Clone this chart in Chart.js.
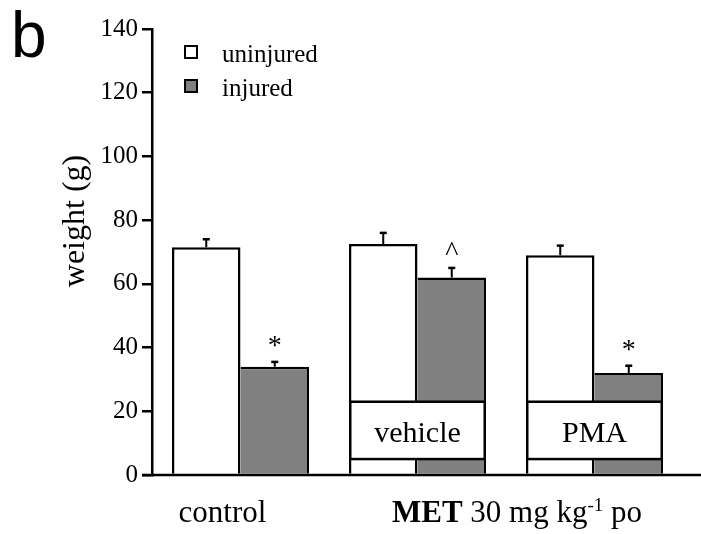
<!DOCTYPE html>
<html>
<head>
<meta charset="utf-8">
<script src="https://cdn.jsdelivr.net/npm/chart.js@4.4.1/dist/chart.umd.min.js"></script>
<style>
    html, body { margin: 0; padding: 0; background: #fff; }
    #weightChart { display: block; }
</style>
</head>
<body>
<canvas id="weightChart" width="701" height="534"></canvas>
<script>
const groups = ['control', 'vehicle', 'PMA'];
const seriesNames = ['uninjured', 'injured'];
const uninjured = [71.5, 72.5, 69];
const uninjuredErr = [2.5, 3.5, 3];
const injured = [34, 62, 32];
const injuredErr = [1.5, 3, 2.3];
const injuredMarks = ['*', '^', '*'];
const yTicks = [0, 20, 40, 60, 80, 100, 120, 140];
const treatedGroups = ['vehicle', 'PMA'];
const boxRange = [5, 23]; // label boxes over the MET bars, in g

const serif = "'Liberation Serif', 'Times New Roman', serif";
const ink = '#000';

function serifFont(size, bold) {
    return (bold ? 'bold ' : '') + size + 'px ' + serif;
}

const figurePlugin = {
    id: 'figure',
    afterDatasetsDraw(chart) {
        const ctx = chart.ctx;
        const y = chart.scales.y;
        const area = chart.chartArea;
        const errs = [uninjuredErr, injuredErr];

        ctx.save();
        ctx.strokeStyle = ink;
        ctx.fillStyle = ink;

        // upward error bars + significance marks
        chart.data.datasets.forEach((ds, di) => {
            chart.getDatasetMeta(di).data.forEach((bar, i) => {
                const top = y.getPixelForValue(ds.data[i]);
                const cap = y.getPixelForValue(ds.data[i] + errs[di][i]);
                ctx.lineWidth = 2;
                ctx.beginPath();
                ctx.moveTo(bar.x, top);
                ctx.lineTo(bar.x, cap);
                ctx.stroke();
                ctx.lineWidth = 2.5;
                ctx.beginPath();
                ctx.moveTo(bar.x - 3.5, cap);
                ctx.lineTo(bar.x + 3.5, cap);
                ctx.stroke();
                if (di === 1 && injuredMarks[i]) {
                    ctx.font = serifFont(28);
                    ctx.textAlign = 'center';
                    ctx.textBaseline = 'alphabetic';
                    ctx.fillText(injuredMarks[i], bar.x, cap - 8);
                }
            });
        });

        // vehicle / PMA boxes
        const m0 = chart.getDatasetMeta(0);
        const m1 = chart.getDatasetMeta(1);
        groups.forEach((g, i) => {
            if (!treatedGroups.includes(g)) return;
            const left = m0.data[i].x - m0.data[i].width / 2;
            const right = m1.data[i].x + m1.data[i].width / 2;
            const top = y.getPixelForValue(boxRange[1]);
            const bot = y.getPixelForValue(boxRange[0]);
            ctx.fillStyle = '#fff';
            ctx.fillRect(left, top, right - left, bot - top);
            ctx.lineWidth = 2.5;
            ctx.strokeRect(left + 1.25, top, right - left - 2.5, bot - top);
            ctx.fillStyle = ink;
            ctx.font = serifFont(30);
            ctx.textAlign = 'center';
            ctx.textBaseline = 'alphabetic';
            ctx.fillText(g, (left + right) / 2, (top + bot) / 2 + 12);
        });

        // x axis line, runs past the y axis to the right edge
        ctx.lineWidth = 2.5;
        ctx.beginPath();
        ctx.moveTo(area.left - 10, area.bottom);
        ctx.lineTo(chart.width, area.bottom);
        ctx.stroke();
        ctx.restore();
    },
    afterDraw(chart) {
        const ctx = chart.ctx;
        const x = chart.scales.x;
        const area = chart.chartArea;
        ctx.save();
        ctx.fillStyle = ink;
        ctx.strokeStyle = ink;

        // panel letter
        ctx.font = "64px 'Liberation Sans', Arial, sans-serif";
        ctx.textAlign = 'left';
        ctx.textBaseline = 'alphabetic';
        ctx.fillText('b', 11, 57);

        // y title
        ctx.save();
        ctx.translate(84, 221);
        ctx.rotate(-Math.PI / 2);
        ctx.font = serifFont(32);
        ctx.textAlign = 'center';
        ctx.fillText('weight (g)', 0, 0);
        ctx.restore();

        // legend
        chart.data.datasets.forEach((ds, i) => {
            const sy = area.top + 17 + i * 34;
            ctx.fillStyle = ds.backgroundColor;
            ctx.fillRect(area.left + 33, sy, 12, 12);
            ctx.lineWidth = 2;
            ctx.strokeRect(area.left + 33, sy, 12, 12);
            ctx.fillStyle = ink;
            ctx.font = serifFont(25);
            ctx.textAlign = 'left';
            ctx.fillText(ds.label, area.left + 70, sy + 16);
        });

        // group labels under the axis
        const labelY = area.bottom + 47;
        ctx.font = serifFont(31);
        ctx.textAlign = 'center';
        ctx.fillText(groups[0], x.getPixelForValue(0) - 18, labelY);

        const parts = [
            { text: 'MET', font: serifFont(31, true), rise: 0 },
            { text: ' 30 mg kg', font: serifFont(31), rise: 0 },
            { text: '-1', font: serifFont(19), rise: 11 },
            { text: ' po', font: serifFont(31), rise: 0 }
        ];
        let total = 0;
        parts.forEach(p => { ctx.font = p.font; p.w = ctx.measureText(p.text).width; total += p.w; });
        let px = (x.getPixelForValue(1) + x.getPixelForValue(2)) / 2 + 11 - total / 2;
        ctx.textAlign = 'left';
        parts.forEach(p => {
            ctx.font = p.font;
            ctx.fillText(p.text, px, labelY - p.rise);
            px += p.w;
        });
        ctx.restore();
    }
};

const ctx = document.getElementById('weightChart').getContext('2d');

new Chart(ctx, {
    type: 'bar',
    data: {
        labels: groups,
        datasets: [{
            label: seriesNames[0],
            data: uninjured,
            backgroundColor: '#ffffff',
            borderColor: ink,
            borderWidth: { top: 2.5, left: 2.5, right: 2.5, bottom: 0 },
            borderSkipped: false
        }, {
            label: seriesNames[1],
            data: injured,
            backgroundColor: '#808080',
            borderColor: ink,
            borderWidth: { top: 2.5, left: 0, right: 2.5, bottom: 0 },
            borderSkipped: false
        }]
    },
    options: {
        responsive: false,
        animation: false,
        events: [],
        categoryPercentage: 0.774,
        barPercentage: 1.0,
        layout: {
            padding: { top: 29, right: 18, bottom: 59, left: 0 }
        },
        plugins: {
            legend: { display: false },
            tooltip: { enabled: false }
        },
        scales: {
            x: {
                display: false
            },
            y: {
                min: yTicks[0],
                max: yTicks[yTicks.length - 1],
                afterBuildTicks: s => { s.ticks = yTicks.map(v => ({ value: v })); },
                afterFit: s => { s.width = 152; },
                border: { display: true, color: ink, width: 2.5 },
                grid: {
                    drawOnChartArea: false,
                    drawTicks: true,
                    tickLength: 10,
                    color: ink,
                    lineWidth: 2.5
                },
                ticks: {
                    color: ink,
                    padding: 4,
                    font: { family: serif, size: 25 }
                }
            }
        }
    },
    plugins: [figurePlugin]
});
</script>
</body>
</html>
